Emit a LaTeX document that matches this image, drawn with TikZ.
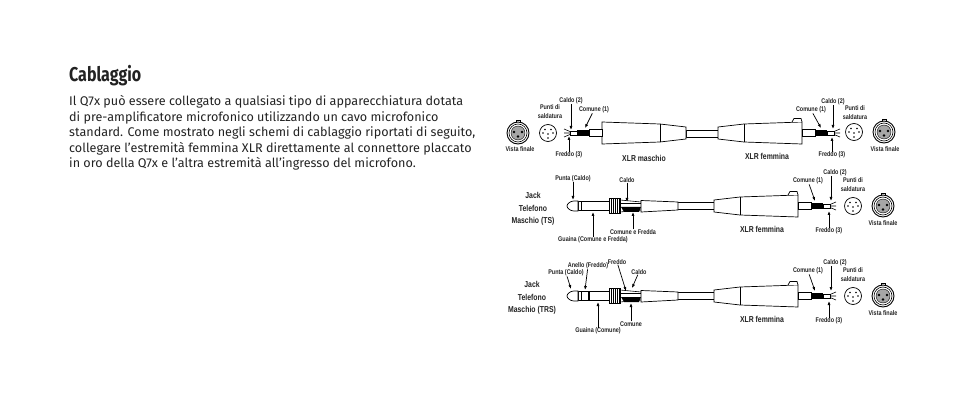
\documentclass[tikz,border=0pt]{standalone}
\usepackage{fontspec}
\setmainfont{Fira Sans}
\newfontfamily\labelfont[FakeStretch=0.8]{Liberation Sans}
\newfontfamily\titlefont[FakeStretch=0.8]{Fira Sans}
\usepackage{tikz}
\usetikzlibrary{arrows.meta}
\definecolor{inkgray}{HTML}{222222}
\tikzset{% pixels of the page as units
	tiny label/.style={font=\labelfont\bfseries\fontsize{6.8}{9}\selectfont, align=center, text=inkgray, inner sep=0pt},
	big label/.style={font=\labelfont\bfseries\fontsize{8.6}{12.3}\selectfont, align=center, text=inkgray, inner sep=0pt},
	callout/.style={-{Latex[length=4pt,width=3pt]}, line width=0.7pt, black},
	part/.style={draw=black, line width=0.7pt, fill=white},
	pics/solderface/.style={code={
		\draw[line width=0.7pt] (0,0) circle (8.5pt);
		\foreach \x/\y in {-5/0,5/0,-3/-3.5,3/-3.5,0/1,0/5}
			\fill (\x,\y) circle (0.9pt);
	}},
	pics/endface/.style={code={
		\draw[part] (-2,-12.5) rectangle (2,-9);
		\draw[part, line width=0.9pt] (0,0) circle (11pt);
		\draw[line width=0.6pt] (0,0) circle (9pt);
		\fill[gray!70, draw=black] (0,0) circle (7pt);
		\foreach \x/\y in {-4/-1,4/-1,0/3.5}
			\fill (\x,\y) circle (1.4pt);
	}},
	pics/xlrbody/.style={code={
		\draw[part] (-94,-6) -- (-68,-9) -- (-10,-11) -- (-10,11) -- (-68,9) -- (-94,6) -- cycle;
		\draw[line width=0.6pt] (-68,-9) -- (-68,9);
		\draw[part] (-10,-3.5) rectangle (3,3.5);
		\fill (3,-3) rectangle (15,3);
		\draw[line width=0.6pt, fill=white] (15,-2) rectangle (22,2);
		\draw[line width=0.6pt] (22,-1.5) -- (28,-4) (22,0) -- (28,0) (22,1.5) -- (28,4);
	}},
	pics/xlrtab/.style={code={
		\draw[part] (-20,-11) -- (-18,-14.5) -- (-11,-14.5) -- (-10,-11);
	}},
	pics/plugback/.style={code={
		\draw[part] (34,-3.5) rectangle (72,3.5);
		\draw[part] (-1,-5.5) -- (36,-4) -- (36,4) -- (-1,6) -- cycle;
		\draw[line width=0.6pt] (-22,-6) -- (-1,-4) (-22,6) -- (-1,4);
		\fill (-21,1) -- (-1,1) -- (-3,6) -- (-18,6) -- cycle;
		\draw[line width=0.6pt] (-21,-3) -- (-1,-3);
		\draw[part] (-33,-8) rectangle (-22,7.5);
		\foreach \x in {-31,-29,...,-23}
			\draw[line width=0.5pt] (\x,-8) -- (\x,7.5);
	}},
}
\begin{document}
\begin{tikzpicture}[x=1pt, y=-1pt]
	\useasboundingbox (0,0) rectangle (954,409);

	% text column
	\node[anchor=west, inner sep=0pt, text=inkgray, font=\titlefont\bfseries\fontsize{20}{24}\selectfont] (title) at (69,76) {Cablaggio};
	\node[anchor=north west, inner sep=0pt, text=inkgray, align=left, font=\fontsize{12.6}{15.5}\selectfont] (body) at (69,95.5) {%
		Il Q7x può essere collegato a qualsiasi tipo di apparecchiatura dotata\\
		di pre-amplificatore microfonico utilizzando un cavo microfonico\\
		standard. Come mostrato negli schemi di cablaggio riportati di seguito,\\
		collegare l’estremità femmina XLR direttamente al connettore placcato\\
		in oro della Q7x e l’altra estremità all’ingresso del microfono.};

	% first row, male to female
	\pic at (518,133) {endface};
	\pic at (548,133) {solderface};
	\draw[part] (686,130) rectangle (718,137);
	\pic[xscale=-1] at (592,133) {xlrbody};
	\pic at (812,133) {xlrbody};
	\pic at (812,133) {xlrtab};
	\pic at (854,132) {solderface};
	\pic at (884,132) {endface};

	\node[tiny label] (vista1) at (520,149) {Vista finale};
	\node[tiny label] (punti1) at (550,112) {Punti di\\saldatura};
	\node[tiny label] (caldo1) at (571,101) {Caldo (2)};
	\node[tiny label] (comune1) at (594,110) {Comune (1)};
	\node[tiny label] (freddo1) at (569,155) {Freddo (3)};
	\node[big label] (maschio1) at (644,158) {XLR maschio};
	\coordinate (caldo1tip) at (571,130);
	\coordinate (comune1tip) at (585,128);
	\coordinate (freddo1tip) at (569,136);
	\draw[callout] (caldo1) -- (caldo1tip);
	\draw[callout] (comune1) -- (comune1tip);
	\draw[callout] (freddo1) -- (freddo1tip);

	\node[tiny label] (caldo1b) at (833,102) {Caldo (2)};
	\node[tiny label] (comune1b) at (811,110) {Comune (1)};
	\node[tiny label] (punti1b) at (855,113) {Punti di\\saldatura};
	\node[tiny label] (freddo1b) at (832,155) {Freddo (3)};
	\node[tiny label] (vista1b) at (885,149) {Vista finale};
	\node[big label] (femmina1) at (767,156) {XLR femmina};
	\coordinate (caldo1btip) at (833,129);
	\coordinate (comune1btip) at (821,128);
	\coordinate (freddo1btip) at (832,137);
	\draw[callout] (caldo1b) -- (caldo1btip);
	\draw[callout] (comune1b) -- (comune1btip);
	\draw[callout] (freddo1b) -- (freddo1btip);

	% second and third row share the female end
	\foreach \row/\cy in {2/206,3/296}{
		\pic at (642,\cy) {plugback};
		\pic at (808,\cy) {xlrbody};
		\pic at (808,\cy) {xlrtab};
		\pic at (853,\cy) {solderface};
		\pic at (883,\cy) {endface};
		\node[tiny label] (caldo\row) at (835,\cy-33) {Caldo (2)};
		\node[tiny label] (comune\row) at (808,\cy-25) {Comune (1)};
		\node[tiny label] (punti\row) at (853,\cy-21.5) {Punti di\\saldatura};
		\node[tiny label] (freddo\row) at (829,\cy+25) {Freddo (3)};
		\node[tiny label] (vista\row) at (883,\cy+17) {Vista finale};
		\node[big label] (femmina\row) at (762,\cy+23) {XLR femmina};
		\coordinate (caldo\row tip) at (831,\cy-5);
		\coordinate (comune\row tip) at (815,\cy-5);
		\coordinate (freddo\row tip) at (829,\cy+5);
		\draw[callout] (caldo\row.south -| caldo\row tip) -- (caldo\row tip);
		\draw[callout] (comune\row) -- (comune\row tip);
		\draw[callout] (freddo\row) -- (freddo\row tip);
	}

	% TS plug
	\draw[part] (578,201.5) rectangle (609,210.5);
	\draw[part] (578,201) -- (574,201) .. controls (570,201) and (567,204) .. (567,206) .. controls (567,208) and (570,211) .. (574,211) -- (578,211) -- cycle;
	\draw[line width=0.6pt] (581,201.5) -- (581,210.5);
	\node[tiny label] (puntaTS) at (573,179) {Punta (Caldo)};
	\node[tiny label] (caldoTS) at (627,180) {Caldo};
	\node[tiny label] (comuneTS) at (633,232) {Comune e Fredda};
	\node[tiny label] (guainaTS) at (593,240) {Guaina (Comune e Fredda)};
	\node[big label] (jackTS) at (533,209) {Jack\\Telefono\\Maschio (TS)};
	\coordinate (puntaTStip) at (573,200);
	\coordinate (caldoTStip) at (627,202);
	\coordinate (comuneTStip) at (633,212);
	\coordinate (guainaTStip) at (593,212);
	\draw[callout] (puntaTS) -- (puntaTStip);
	\draw[callout] (caldoTS) -- (caldoTStip);
	\draw[callout] (comuneTS) -- (comuneTStip);
	\draw[callout] (guainaTS) -- (guainaTStip);

	% TRS plug
	\draw[part] (578,291.5) rectangle (609,300.5);
	\draw[part] (578,291) -- (574,291) .. controls (570,291) and (567,294) .. (567,296) .. controls (567,298) and (570,301) .. (574,301) -- (578,301) -- cycle;
	\draw[line width=0.6pt] (581,291.5) -- (581,300.5);
	\fill (588,291.5) rectangle (590,300.5);
	\node[tiny label] (puntaTRS) at (566,273) {Punta (Caldo)};
	\node[tiny label] (anelloTRS) at (588,266) {Anello (Freddo)};
	\node[tiny label] (freddoTRS) at (617,262) {Freddo};
	\node[tiny label] (caldoTRS) at (639,272) {Caldo};
	\node[tiny label] (comuneTRS) at (631,324) {Comune};
	\node[tiny label] (guainaTRS) at (598,331) {Guaina (Comune)};
	\node[big label] (jackTRS) at (532,298) {Jack\\Telefono\\Maschio (TRS)};
	\coordinate (puntaTRStip) at (571,289);
	\coordinate (anelloTRStip) at (585,290);
	\coordinate (freddoTRStip) at (626,291);
	\coordinate (caldoTRStip) at (632,288);
	\coordinate (comuneTRStip) at (631,303);
	\coordinate (guainaTRStip) at (598,302);
	\draw[callout] (puntaTRS) -- (puntaTRStip);
	\draw[callout] (anelloTRS) -- (anelloTRStip);
	\draw[callout] (freddoTRS) -- (freddoTRStip);
	\draw[callout] (caldoTRS) -- (caldoTRStip);
	\draw[callout] (comuneTRS) -- (comuneTRStip);
	\draw[callout] (guainaTRS) -- (guainaTRStip);
\end{tikzpicture}
\end{document}
